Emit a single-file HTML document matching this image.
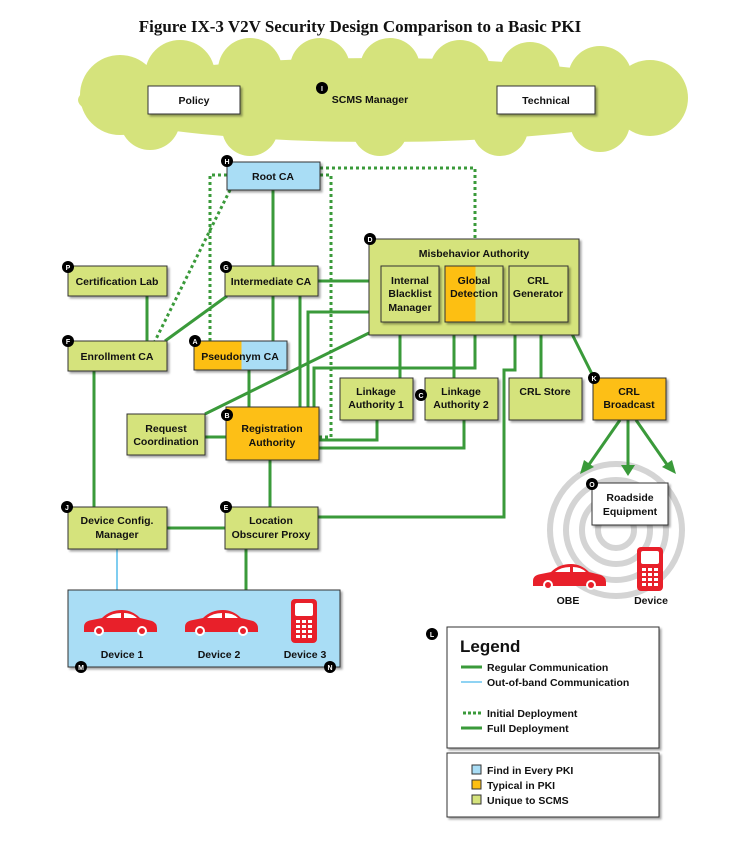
<!DOCTYPE html>
<html><head><meta charset="utf-8"><style>
body{margin:0;background:#fff;width:740px;height:841px;overflow:hidden}
text{font-family:"Liberation Sans",sans-serif;font-weight:bold;font-size:10.5px;fill:#111}
</style></head><body>
<svg width="740" height="841" viewBox="0 0 740 841" xmlns="http://www.w3.org/2000/svg">
<defs>
<filter id="sh" x="-10%" y="-10%" width="130%" height="130%"><feDropShadow dx="2" dy="2" stdDeviation="1" flood-color="#000" flood-opacity="0.35"/></filter>
<g id="car"><path d="M0 18 Q0 12 8 11 L18 9 Q26 1 38 1 Q48 1 56 9 L68 12 Q73 14 73 19 L73 23 L0 23 Z" fill="#e8202a"/><path d="M22 9 Q28 4 37 4 L37 9 Z M40 4 Q48 4 53 9 L40 9Z" fill="#fff"/><circle cx="15" cy="22" r="5" fill="#fff"/><circle cx="15" cy="22" r="3" fill="#e8202a"/><circle cx="58" cy="22" r="5" fill="#fff"/><circle cx="58" cy="22" r="3" fill="#e8202a"/></g>
<g id="phone"><rect x="0" y="0" width="26" height="44" rx="4" fill="#e8202a"/><rect x="4" y="4" width="18" height="13" rx="2" fill="#fff"/><g fill="#fff"><rect x="5" y="21" width="4" height="3"/><rect x="11" y="21" width="4" height="3"/><rect x="17" y="21" width="4" height="3"/><rect x="5" y="26" width="4" height="3"/><rect x="11" y="26" width="4" height="3"/><rect x="17" y="26" width="4" height="3"/><rect x="5" y="31" width="4" height="3"/><rect x="11" y="31" width="4" height="3"/><rect x="17" y="31" width="4" height="3"/><rect x="5" y="36" width="4" height="3"/><rect x="11" y="36" width="4" height="3"/><rect x="17" y="36" width="4" height="3"/></g></g>
</defs>
<text x="360" y="32" text-anchor="middle" style="font-family:'Liberation Serif',serif;font-size:17px">Figure IX-3 V2V Security Design Comparison to a Basic PKI</text>

<!-- cloud -->
<g fill="#d5e37c">
<ellipse cx="378" cy="100" rx="300" ry="42"/>
<circle cx="120" cy="95" r="40"/><circle cx="180" cy="75" r="35"/><circle cx="250" cy="70" r="32"/><circle cx="320" cy="68" r="30"/><circle cx="390" cy="68" r="30"/><circle cx="460" cy="70" r="30"/><circle cx="530" cy="72" r="30"/><circle cx="600" cy="78" r="32"/><circle cx="650" cy="98" r="38"/>
<circle cx="150" cy="120" r="30"/><circle cx="250" cy="128" r="28"/><circle cx="380" cy="128" r="28"/><circle cx="500" cy="128" r="28"/><circle cx="600" cy="122" r="30"/>
</g>
<rect x="148" y="86" width="92" height="28" fill="#fff" stroke="#333" filter="url(#sh)"/><text x="194" y="104" text-anchor="middle">Policy</text>
<rect x="497" y="86" width="98" height="28" fill="#fff" stroke="#333" filter="url(#sh)"/><text x="546" y="104" text-anchor="middle">Technical</text>
<text x="370" y="103" text-anchor="middle">SCMS Manager</text>

<!-- radio circles -->
<g fill="none" stroke="#d4d4d4" stroke-width="6">
<circle cx="616" cy="530" r="66"/><circle cx="616" cy="530" r="50"/><circle cx="616" cy="530" r="34"/><circle cx="616" cy="530" r="18"/></g>

<!-- dotted -->
<g fill="none" stroke="#3a9a3a" stroke-width="3" stroke-dasharray="3,3">
<polyline points="227,175 210,175 210,341"/>
<line x1="230" y1="190" x2="155" y2="341"/>
<polyline points="320,175 331,175 331,437 319,437"/>
<polyline points="320,168 475,168 475,239"/>
</g>
<!-- solid -->
<g fill="none" stroke="#3a9a3a" stroke-width="3">
<line x1="273" y1="190" x2="273" y2="266"/>
<line x1="273" y1="296" x2="273" y2="341"/>
<line x1="147" y1="296" x2="147" y2="341"/>
<line x1="165" y1="341" x2="227" y2="296"/>
<line x1="318" y1="281" x2="369" y2="281"/>
<line x1="300" y1="296" x2="300" y2="407"/>
<line x1="249" y1="370" x2="249" y2="407"/>
<line x1="205" y1="437" x2="226" y2="437"/>
<line x1="205" y1="414" x2="369" y2="333"/>
<polyline points="381,312 308,312 308,407"/>
<line x1="400" y1="335" x2="400" y2="378"/>
<line x1="454" y1="335" x2="454" y2="378"/>
<polyline points="475,322 475,368 314,368 314,407"/>
<polyline points="377,420 377,440 319,440"/>
<polyline points="464,420 464,448 319,448"/>
<line x1="541" y1="322" x2="541" y2="378"/>
<polyline points="515,322 515,370 504,370 504,517 318,517"/>
<line x1="566" y1="322" x2="594" y2="378"/>
<line x1="94" y1="371" x2="94" y2="507"/>
<line x1="167" y1="528" x2="225" y2="528"/>
<line x1="270" y1="460" x2="270" y2="507"/>
<line x1="246" y1="549" x2="246" y2="590"/>
<line x1="620" y1="420" x2="588" y2="466"/>
<line x1="628" y1="420" x2="628" y2="468"/>
<line x1="636" y1="420" x2="668" y2="466"/>
</g>
<g fill="#3a9a3a"><polygon points="580,474 584,460 594,467"/><polygon points="628,476 621,465 635,465"/><polygon points="676,474 662,467 672,460"/></g>
<line x1="117" y1="549" x2="117" y2="590" stroke="#7fcdf0" stroke-width="2"/>

<!-- boxes -->
<g stroke="#333" stroke-width="1" filter="url(#sh)">
<rect x="227" y="162" width="93" height="28" fill="#a9ddf5"/>
<rect x="225" y="266" width="93" height="30" fill="#d5e37c"/>
<rect x="68" y="266" width="99" height="30" fill="#d5e37c"/>
<rect x="68" y="341" width="99" height="30" fill="#d5e37c"/>
<rect x="194" y="341" width="93" height="29" fill="#a9ddf5"/>
<rect x="369" y="239" width="210" height="96" fill="#d5e37c"/>
<rect x="340" y="378" width="73" height="42" fill="#d5e37c"/>
<rect x="425" y="378" width="73" height="42" fill="#d5e37c"/>
<rect x="509" y="378" width="73" height="42" fill="#d5e37c"/>
<rect x="593" y="378" width="73" height="42" fill="#fdbf12"/>
<rect x="127" y="414" width="78" height="41" fill="#d5e37c"/>
<rect x="226" y="407" width="93" height="53" fill="#fdbf12"/>
<rect x="68" y="507" width="99" height="42" fill="#d5e37c"/>
<rect x="225" y="507" width="93" height="42" fill="#d5e37c"/>
<rect x="68" y="590" width="272" height="77" fill="#a9ddf5"/>
<rect x="592" y="483" width="76" height="42" fill="#fff"/>
<rect x="447" y="627" width="212" height="121" fill="#fff"/>
<rect x="447" y="753" width="212" height="64" fill="#fff"/>
</g>
<rect x="194.5" y="341.5" width="47" height="28" fill="#fdbf12"/>
<g stroke="#333" filter="url(#sh)">
<rect x="381" y="266" width="58" height="56" fill="#d5e37c"/>
<rect x="445" y="266" width="58" height="56" fill="#d5e37c"/>
<rect x="509" y="266" width="59" height="56" fill="#d5e37c"/>
</g>
<rect x="445.5" y="266.5" width="30" height="55" fill="#fdbf12"/>
<rect x="445" y="266" width="58" height="56" fill="none" stroke="#333"/>
<rect x="194" y="341" width="93" height="29" fill="none" stroke="#333"/>

<!-- labels -->
<text x="273" y="180" text-anchor="middle">Root CA</text>
<text x="271" y="285" text-anchor="middle">Intermediate CA</text>
<text x="117" y="285" text-anchor="middle">Certification Lab</text>
<text x="117" y="360" text-anchor="middle">Enrollment CA</text>
<text x="240" y="360" text-anchor="middle">Pseudonym CA</text>
<text x="474" y="257" text-anchor="middle">Misbehavior Authority</text>
<text x="410" y="284" text-anchor="middle">Internal</text><text x="410" y="297" text-anchor="middle">Blacklist</text><text x="410" y="311" text-anchor="middle">Manager</text>
<text x="474" y="284" text-anchor="middle">Global</text><text x="474" y="297" text-anchor="middle">Detection</text>
<text x="538" y="284" text-anchor="middle">CRL</text><text x="538" y="297" text-anchor="middle">Generator</text>
<text x="376" y="395" text-anchor="middle">Linkage</text><text x="376" y="408" text-anchor="middle">Authority 1</text>
<text x="461" y="395" text-anchor="middle">Linkage</text><text x="461" y="408" text-anchor="middle">Authority 2</text>
<text x="545" y="395" text-anchor="middle">CRL Store</text>
<text x="629" y="395" text-anchor="middle">CRL</text><text x="629" y="408" text-anchor="middle">Broadcast</text>
<text x="166" y="432" text-anchor="middle">Request</text><text x="166" y="445" text-anchor="middle">Coordination</text>
<text x="272" y="432" text-anchor="middle">Registration</text><text x="272" y="446" text-anchor="middle">Authority</text>
<text x="117" y="524" text-anchor="middle">Device Config.</text><text x="117" y="538" text-anchor="middle">Manager</text>
<text x="271" y="524" text-anchor="middle">Location</text><text x="271" y="538" text-anchor="middle">Obscurer Proxy</text>
<text x="630" y="501" text-anchor="middle">Roadside</text><text x="630" y="515" text-anchor="middle">Equipment</text>

<use href="#car" x="84" y="609"/><use href="#car" x="185" y="609"/><use href="#phone" x="291" y="599"/>
<text x="122" y="658" text-anchor="middle">Device 1</text><text x="219" y="658" text-anchor="middle">Device 2</text><text x="305" y="658" text-anchor="middle">Device 3</text>
<use href="#car" x="533" y="563"/><use href="#phone" x="637" y="547"/>
<text x="568" y="604" text-anchor="middle">OBE</text><text x="651" y="604" text-anchor="middle">Device</text>

<!-- legend -->
<text x="460" y="652" style="font-size:17px">Legend</text>
<g stroke-width="3"><line x1="461" y1="667" x2="482" y2="667" stroke="#3a9a3a"/><line x1="461" y1="682" x2="482" y2="682" stroke="#8fd3f3" stroke-width="2"/>
<line x1="463" y1="713" x2="483" y2="713" stroke="#3a9a3a" stroke-dasharray="3,2"/><line x1="461" y1="728" x2="482" y2="728" stroke="#3a9a3a"/></g>
<text x="487" y="671">Regular Communication</text><text x="487" y="686">Out-of-band Communication</text>
<text x="487" y="717">Initial Deployment</text><text x="487" y="732">Full Deployment</text>
<g stroke="#333"><rect x="472" y="765" width="9" height="9" fill="#a9ddf5"/><rect x="472" y="780" width="9" height="9" fill="#fdbf12"/><rect x="472" y="795" width="9" height="9" fill="#d5e37c"/></g>
<text x="487" y="774">Find in Every PKI</text><text x="487" y="789">Typical in PKI</text><text x="487" y="804">Unique to SCMS</text>

<!-- badges -->
<g style="font-size:7px">
<g fill="#000"><circle cx="322" cy="88" r="6"/><circle cx="227" cy="161" r="6"/><circle cx="226" cy="267" r="6"/><circle cx="68" cy="267" r="6"/><circle cx="68" cy="341" r="6"/><circle cx="195" cy="341" r="6"/><circle cx="370" cy="239" r="6"/><circle cx="421" cy="395" r="6"/><circle cx="594" cy="378" r="6"/><circle cx="227" cy="415" r="6"/><circle cx="67" cy="507" r="6"/><circle cx="226" cy="507" r="6"/><circle cx="81" cy="667" r="6"/><circle cx="330" cy="667" r="6"/><circle cx="592" cy="484" r="6"/><circle cx="432" cy="634" r="6"/></g>
<g fill="#fff" text-anchor="middle" style="fill:#fff;font-size:7px">
<text x="322" y="91" style="fill:#fff;font-size:7px">I</text><text x="227" y="164" style="fill:#fff;font-size:7px">H</text><text x="226" y="270" style="fill:#fff;font-size:7px">G</text><text x="68" y="270" style="fill:#fff;font-size:7px">P</text><text x="68" y="344" style="fill:#fff;font-size:7px">F</text><text x="195" y="344" style="fill:#fff;font-size:7px">A</text><text x="370" y="242" style="fill:#fff;font-size:7px">D</text><text x="421" y="398" style="fill:#fff;font-size:7px">C</text><text x="594" y="381" style="fill:#fff;font-size:7px">K</text><text x="227" y="418" style="fill:#fff;font-size:7px">B</text><text x="67" y="510" style="fill:#fff;font-size:7px">J</text><text x="226" y="510" style="fill:#fff;font-size:7px">E</text><text x="81" y="670" style="fill:#fff;font-size:7px">M</text><text x="330" y="670" style="fill:#fff;font-size:7px">N</text><text x="592" y="487" style="fill:#fff;font-size:7px">O</text><text x="432" y="637" style="fill:#fff;font-size:7px">L</text>
</g></g>
</svg>
</body></html>
